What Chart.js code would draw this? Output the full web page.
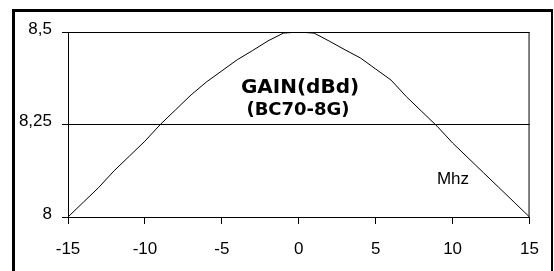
<!DOCTYPE html>
<html>
<head>
<meta charset="utf-8">
<script src="https://cdn.jsdelivr.net/npm/chart.js@4.4.0/dist/chart.umd.min.js"></script>
<style>
  html, body { margin: 0; padding: 0; background: #fff; }
  #gainChart { display: block; }
</style>
</head>
<body>
<canvas id="gainChart" width="554" height="271"></canvas>
<script>
// frequency offset (Mhz)
var freqs = [-15, -14, -13, -12, -11, -10, -9, -8, -7, -6, -5, -4, -3, -2, -1, 0,
             1, 2, 3, 4, 5, 6, 7, 8, 9, 10, 11, 12, 13, 14, 15];
// gain (dBd)
var gains = [8.00, 8.04, 8.08, 8.125, 8.165, 8.205, 8.25, 8.29, 8.33, 8.365, 8.395, 8.425, 8.45, 8.476, 8.497, 8.50,
             8.497, 8.475, 8.452, 8.43, 8.40, 8.37, 8.325, 8.285, 8.245, 8.20, 8.16, 8.12, 8.08, 8.04, 8.00];
var yTicks = [8, 8.25, 8.5];
var xTicks = [-15, -10, -5, 0, 5, 10, 15];
var chartTitle = ['GAIN(dBd)', '(BC70-8G)'];
var unitLabel = 'Mhz';

var points = freqs.map(function(f, i) { return { x: f, y: gains[i] }; });

// cadre + textes
var framePlugin = {
	id: 'frame',
	beforeDraw: function(chart) {
		var ctx = chart.ctx;
		ctx.save();
		ctx.fillStyle = '#fff';
		ctx.fillRect(0, 0, chart.width, chart.height);
		ctx.fillStyle = '#000';
		ctx.fillRect(12, 9, 3, chart.height - 9);
		ctx.fillRect(12, 9, 541, 3);
		ctx.fillRect(551, 9, 2, chart.height - 9);
		ctx.restore();
	},
	afterDatasetsDraw: function(chart) {
		var ctx = chart.ctx;
		var a = chart.chartArea;
		ctx.save();
		ctx.strokeStyle = '#000';
		ctx.lineWidth = 1;
		ctx.strokeRect(a.left + 0.5, a.top + 0.5, a.right - a.left - 1, a.bottom - a.top);
		ctx.fillStyle = '#000';
		ctx.textAlign = 'center';
		ctx.textBaseline = 'middle';
		ctx.font = 'bold 20px "DejaVu Sans"';
		ctx.fillText(chartTitle[0], 300, 88);
		ctx.font = 'bold 18px "DejaVu Sans"';
		ctx.fillText(chartTitle[1], 298, 110);
		ctx.font = '17px "Liberation Sans", Arial';
		ctx.fillText(unitLabel, 453, 179);
		ctx.restore();
	}
};

var ctx = document.getElementById('gainChart').getContext('2d');
var gainChart = new Chart(ctx, {
	type: 'line',
	data: {
		datasets: [{
			label: 'Gain',
			data: points,
			borderColor: '#000',
			borderWidth: 1,
			pointRadius: 0,
			tension: 0,
			fill: false
		}]
	},
	options: {
		responsive: false,
		animation: false,
		devicePixelRatio: 1,
		layout: { padding: { left: 0, right: 13, top: 32, bottom: 0 } },
		plugins: {
			legend: { display: false },
			tooltip: { enabled: false }
		},
		scales: {
			x: {
				type: 'linear',
				min: -15,
				max: 15,
				afterFit: function(scale) { scale.height = 54; },
				afterBuildTicks: function(scale) {
					scale.ticks = xTicks.map(function(v) { return { value: v }; });
				},
				ticks: {
					color: '#000',
					font: { family: '"Liberation Sans", Arial', size: 17 },
					padding: 15,
					maxRotation: 0,
					autoSkip: false
				},
				grid: { drawOnChartArea: false, color: '#000', tickLength: 7, lineWidth: 1 },
				border: { display: true, color: '#000', width: 1 }
			},
			y: {
				type: 'linear',
				min: 8,
				max: 8.5,
				afterFit: function(scale) { scale.width = 68; },
				afterBuildTicks: function(scale) {
					scale.ticks = yTicks.map(function(v) { return { value: v }; });
				},
				ticks: {
					color: '#000',
					font: { family: '"Liberation Sans", Arial', size: 17 },
					padding: 10,
					labelOffset: -3,
					callback: function(v) { return String(v).replace('.', ','); }
				},
				grid: { color: '#000', tickLength: 6, lineWidth: 1 },
				border: { display: true, color: '#000', width: 1 }
			}
		}
	},
	plugins: [framePlugin]
});
</script>
</body>
</html>
